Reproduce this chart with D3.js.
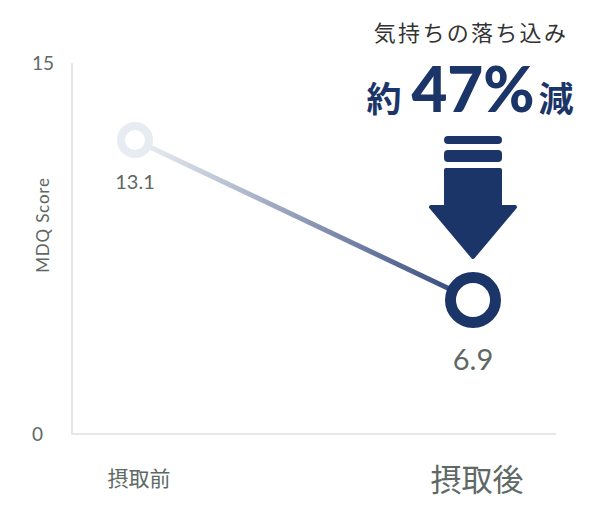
<!DOCTYPE html>
<html>
<head>
<meta charset="utf-8">
<script src="https://cdn.jsdelivr.net/npm/d3@7"></script>
<style>
  body { margin: 0; background: #fff; }
  svg { display: block; font-family: "Noto Sans CJK JP", "Lato", sans-serif; }
</style>
</head>
<body>
<div id="chart"></div>
<script>
// data
var categories = ["摂取前", "摂取後"];
var values = [13.1, 6.9];
var tickValues = [0, 15];
var headline = "気持ちの落ち込み";
var changeLabel = ["約", "47%", "減"];

var width = 606,
    height = 530,
    navy = "#1b3569",
    light = "#e6ecf2",
    grey = "#5e6965";

var svg = d3.select("#chart")
  .append("svg")
    .attr("width", width)
    .attr("height", height);

// scales
var x = d3.scalePoint()
  .domain(categories)
  .range([135, 473]);

// axis frame scale (where tick labels sit)
var yAxis = d3.scaleLinear()
  .domain([0, 15])
  .range([434, 63]);

// the points are drawn on a stretched scale in the original
var y = d3.scaleLinear()
  .domain([0, 15])
  .range([478, 91]);

// axes lines
svg.append("line")
  .attr("x1", 72).attr("x2", 72)
  .attr("y1", yAxis(15)).attr("y2", yAxis(0))
  .attr("stroke", "#e3e7e9").attr("stroke-width", 2);

svg.append("line")
  .attr("x1", 71).attr("x2", 556)
  .attr("y1", yAxis(0)).attr("y2", yAxis(0))
  .attr("stroke", "#e3e7e9").attr("stroke-width", 2);

svg.selectAll(".tick")
  .data(tickValues)
  .enter().append("text")
    .attr("class", "tick")
    .attr("x", 32)
    .attr("y", function(d) { return yAxis(d); })
    .attr("dy", "0.36em")
    .attr("text-anchor", "start")
    .attr("font-family", "Lato, sans-serif")
    .attr("font-size", 19)
    .attr("fill", grey)
    .text(function(d) { return d; });

svg.append("text")
  .attr("transform", "translate(49,225) rotate(-90)")
  .attr("text-anchor", "middle")
  .attr("font-family", "Lato, sans-serif")
  .attr("font-size", 17)
  .attr("letter-spacing", 0.8)
  .attr("fill", grey)
  .text("MDQ Score");

// category labels
var catSize = [21, 31], catBase = [486, 491];
svg.selectAll(".cat")
  .data(categories)
  .enter().append("text")
    .attr("class", "cat")
    .attr("x", function(d) { return x(d) + 4; })
    .attr("y", function(d, i) { return catBase[i]; })
    .attr("text-anchor", "middle")
    .attr("font-size", function(d, i) { return catSize[i]; })
    .attr("fill", grey)
    .text(function(d) { return d; });

// gradient line
var grad = svg.append("defs").append("linearGradient")
  .attr("id", "lineGrad")
  .attr("gradientUnits", "userSpaceOnUse")
  .attr("x1", x(categories[0])).attr("y1", y(values[0]))
  .attr("x2", x(categories[1])).attr("y2", y(values[1]));
grad.append("stop").attr("offset", "0%").attr("stop-color", "#eef2f6");
grad.append("stop").attr("offset", "100%").attr("stop-color", "#2e4378");

var line = d3.line()
  .x(function(d, i) { return x(categories[i]); })
  .y(function(d) { return y(d); });

svg.append("path")
  .datum(values)
  .attr("d", line)
  .attr("fill", "none")
  .attr("stroke", "url(#lineGrad)")
  .attr("stroke-width", 5);

// points
var radius = [14, 22.5], strokeW = [8, 11], colors = [light, navy];

svg.selectAll(".pt")
  .data(values)
  .enter().append("circle")
    .attr("class", "pt")
    .attr("cx", function(d, i) { return x(categories[i]); })
    .attr("cy", function(d) { return y(d); })
    .attr("r", function(d, i) { return radius[i]; })
    .attr("fill", "#fff")
    .attr("stroke", function(d, i) { return colors[i]; })
    .attr("stroke-width", function(d, i) { return strokeW[i]; });

svg.selectAll(".val")
  .data(values)
  .enter().append("text")
    .attr("class", "val")
    .attr("x", function(d, i) { return x(categories[i]); })
    .attr("y", function(d, i) { return y(d) + (i === 0 ? 49 : 70); })
    .attr("text-anchor", "middle")
    .attr("font-family", "Lato, sans-serif")
    .attr("font-size", function(d, i) { return i === 0 ? 20 : 29; })
    .attr("fill", grey)
    .text(function(d) { return d.toFixed(1); });

// arrow
var ax = x(categories[1]);
var arrow = svg.append("g").attr("fill", navy);
arrow.append("rect").attr("x", ax - 29).attr("y", 136).attr("width", 58).attr("height", 8).attr("rx", 4);
arrow.append("rect").attr("x", ax - 29).attr("y", 150).attr("width", 58).attr("height", 12).attr("rx", 4);
arrow.append("path")
  .attr("stroke", navy)
  .attr("stroke-width", 4)
  .attr("stroke-linejoin", "round")
  .attr("d", "M" + (ax - 27) + ",170 L" + (ax + 27) + ",170 L" + (ax + 27) + ",207 L" + (ax + 42) + ",207 L" + ax + ",257 L" + (ax - 42) + ",207 L" + (ax - 27) + ",207 Z");

// headline
svg.append("text")
  .attr("x", 471)
  .attr("y", 41)
  .attr("text-anchor", "middle")
  .attr("font-size", 22)
  .attr("letter-spacing", 2.3)
  .attr("fill", "#333")
  .text(headline);

var big = svg.append("text")
  .attr("x", 470)
  .attr("y", 112)
  .attr("text-anchor", "middle")
  .attr("fill", navy);
big.append("tspan")
  .attr("font-size", 35).attr("font-weight", 700)
  .text(changeLabel[0]);
big.append("tspan")
  .attr("font-family", "Lato, sans-serif")
  .attr("font-size", 62).attr("font-weight", 900)
  .attr("dx", 10)
  .text(changeLabel[1]);
big.append("tspan")
  .attr("font-size", 35).attr("font-weight", 700)
  .attr("dx", 4)
  .text(changeLabel[2]);
</script>
</body>
</html>
